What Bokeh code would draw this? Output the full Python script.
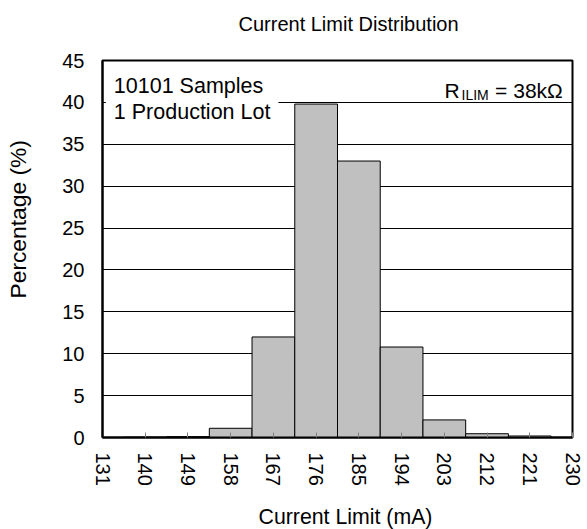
from bokeh.plotting import figure
from bokeh.models import Label, Title, Range1d, FixedTicker
from bokeh.embed import file_html
from bokeh.resources import INLINE

# Data
bin_centers = [140, 149, 158, 167, 176, 185, 194, 203, 212, 221]
percentages = [0.03, 0.1, 1.1, 12.0, 39.8, 33.0, 10.8, 2.1, 0.45, 0.18]
bin_width = 9
x_ticks = [131, 140, 149, 158, 167, 176, 185, 194, 203, 212, 221, 230]
y_ticks = [0, 5, 10, 15, 20, 25, 30, 35, 40, 45]

FONT = "Liberation Sans"
FS = "20px"

p = figure(width=587, height=529, output_backend="svg", toolbar_location=None,
           x_range=Range1d(131, 230), y_range=Range1d(0, 45),
           min_border_left=102, min_border_right=15, min_border_top=60, min_border_bottom=92)

lefts = [c - bin_width / 2 for c in bin_centers]
rights = [c + bin_width / 2 for c in bin_centers]
p.quad(left=lefts, right=rights, bottom=0, top=percentages,
       fill_color="#C0C0C0", line_color="black", line_width=1)

# Axes
p.xaxis.ticker = FixedTicker(ticks=x_ticks)
p.yaxis.ticker = FixedTicker(ticks=y_ticks)
p.xaxis.major_label_orientation = "vertical"
for ax in (p.xaxis, p.yaxis):
    ax.major_label_text_font = FONT
    ax.major_label_text_font_size = FS
    ax.major_label_text_color = "black"
    ax.axis_line_color = "black"
    ax.axis_line_width = 2
    ax.minor_tick_line_color = None
p.xaxis.major_tick_in = 5
p.xaxis.major_tick_out = 0
p.xaxis.major_tick_line_color = "#808080"
p.xaxis.major_label_standoff = 15
p.yaxis.major_tick_in = 0
p.yaxis.major_tick_out = 0
p.yaxis.major_label_standoff = 18

p.xgrid.grid_line_color = None
p.ygrid.grid_line_color = "black"
p.ygrid.grid_line_width = 1

p.outline_line_color = "black"
p.outline_line_width = 2
p.background_fill_color = "white"
p.border_fill_color = "white"


def spacer(side, size_px):
    # invisible title used only to push the real title outward
    s = Title(text=" ", text_font_size="2px", standoff=size_px, text_color="white")
    p.add_layout(s, side)


# Chart title (above)
spacer("above", 22)
p.add_layout(Title(text="Current Limit Distribution", align="left", offset=136,
                   vertical_align="bottom", standoff=0,
                   text_font=FONT, text_font_size=FS, text_font_style="normal",
                   text_color="black"), "above")

# X axis title (below)
spacer("below", 10)
p.add_layout(Title(text="Current Limit (mA)", align="left", offset=156,
                   vertical_align="bottom", standoff=0,
                   text_font=FONT, text_font_size="21.3px", text_font_style="normal",
                   text_color="black"), "below")

# Y axis title (left)
spacer("left", 25)
p.add_layout(Title(text="Percentage (%)", align="left", offset=139,
                   vertical_align="bottom", standoff=0,
                   text_font=FONT, text_font_size="22.8px", text_font_style="normal",
                   text_color="black"), "left")

# Annotations
info = Label(x=131.7, y=44.38, text="10101 Samples\n1 Production Lot",
             text_font=FONT, text_font_size="21.5px", text_baseline="top", text_align="left",
             text_line_height=1.1, text_color="black",
             background_fill_color="white", padding=8)
p.add_layout(info)

r_main = Label(x=227.95, y=41.42, text="= 38k\u03a9", text_font=FONT, text_font_size="21px",
               text_align="right", text_baseline="alphabetic", text_color="black")
p.add_layout(r_main)
r_sub = Label(x=227.95, y=41.42, x_offset=-74, y_offset=-5, text="ILIM", text_font=FONT,
              text_font_size="14px", text_align="right", text_baseline="alphabetic",
              text_color="black")
p.add_layout(r_sub)
r_r = Label(x=227.95, y=41.42, x_offset=-103, text="R", text_font=FONT, text_font_size="21px",
            text_align="right", text_baseline="alphabetic", text_color="black")
p.add_layout(r_r)

open("out.html", "w").write(file_html(p, INLINE))
